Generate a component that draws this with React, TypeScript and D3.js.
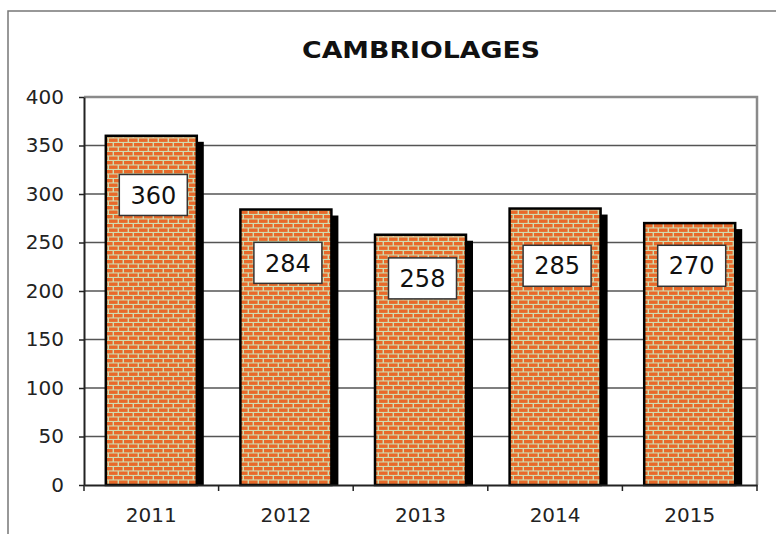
import React, { useEffect, useRef } from 'react';
import * as d3 from 'd3';

const years = ['2011', '2012', '2013', '2014', '2015'];
const burglaries = [360, 284, 258, 285, 270];
// where each value box sits, in axis units (center of the box)
const labelAt = [299, 229, 213, 226, 226];
const yTicks = [0, 50, 100, 150, 200, 250, 300, 350, 400];

const W = 776;
const H = 534;

const App = () => {
  const ref = useRef<SVGSVGElement>(null);

  useEffect(() => {
    const margin = { top: 97, right: 19, bottom: 49, left: 84 };
    const width = W - margin.left - margin.right;
    const height = H - margin.top - margin.bottom;

    const root = d3.select(ref.current);
    root.selectAll('*').remove();

    // brick texture
    const defs = root.append('defs');
    const pat = defs
      .append('pattern')
      .attr('id', 'bricks')
      .attr('patternUnits', 'userSpaceOnUse')
      .attr('width', 10)
      .attr('height', 9);
    pat.append('rect').attr('width', 10).attr('height', 9).attr('fill', '#cfdcb0');
    pat.append('rect').attr('x', 0).attr('y', 1).attr('width', 8.6).attr('height', 3.4).attr('fill', '#e8692a');
    pat.append('rect').attr('x', -5).attr('y', 5.5).attr('width', 8.6).attr('height', 3.4).attr('fill', '#e8692a');
    pat.append('rect').attr('x', 5).attr('y', 5.5).attr('width', 8.6).attr('height', 3.4).attr('fill', '#e8692a');

    root.append('rect').attr('width', W).attr('height', H).attr('fill', '#fff');

    // outer frame
    root
      .append('path')
      .attr('d', `M8,${H} L8,11 L${W},11`)
      .attr('fill', 'none')
      .attr('stroke', '#777')
      .attr('stroke-width', 1.5);

    root
      .append('text')
      .attr('x', 421)
      .attr('y', 58)
      .attr('text-anchor', 'middle')
      .attr('font-family', 'DejaVu Sans, Verdana, sans-serif')
      .attr('font-weight', 'bold')
      .attr('font-size', 23)
      .attr('textLength', 238)
      .attr('lengthAdjust', 'spacingAndGlyphs')
      .attr('fill', '#111')
      .text('CAMBRIOLAGES');

    const svg = root.append('g').attr('transform', `translate(${margin.left},${margin.top})`);

    const x = d3.scaleBand().domain(years).range([0, width]).padding(0);
    const y = d3.scaleLinear().domain([0, 400]).range([height, 0]);

    // gridlines
    svg
      .selectAll('.grid')
      .data(yTicks.filter((d) => d > 0 && d < 400))
      .enter()
      .append('line')
      .attr('x1', 0)
      .attr('x2', width)
      .attr('y1', (d) => y(d))
      .attr('y2', (d) => y(d))
      .attr('stroke', '#555')
      .attr('stroke-width', 1.5);

    // plot frame top + right
    svg
      .append('path')
      .attr('d', `M0,${y(400)} L${width},${y(400)} L${width},${height}`)
      .attr('fill', 'none')
      .attr('stroke', '#8a8a8a')
      .attr('stroke-width', 2.5);

    const barW = x.bandwidth() * 0.676;
    const bx = (d: string) => x(d)! + (x.bandwidth() - barW) / 2;
    const shadow = 7;

    const bars = svg.selectAll('.bar').data(burglaries).enter().append('g');

    bars
      .append('rect')
      .attr('x', (d, i) => bx(years[i]) + shadow)
      .attr('y', (d) => y(d) + 6)
      .attr('width', barW)
      .attr('height', (d) => height - y(d) - 6)
      .attr('fill', '#000');

    bars
      .append('rect')
      .attr('x', (d, i) => bx(years[i]))
      .attr('y', (d) => y(d))
      .attr('width', barW)
      .attr('height', (d) => height - y(d))
      .attr('fill', 'url(#bricks)')
      .attr('stroke', '#000')
      .attr('stroke-width', 2.5);

    // value boxes
    const boxW = 68;
    const boxH = 41;
    const labels = svg.selectAll('.lbl').data(burglaries).enter().append('g');
    labels
      .append('rect')
      .attr('x', (d, i) => x(years[i])! + x.bandwidth() / 2 + 2 - boxW / 2)
      .attr('y', (d, i) => y(labelAt[i]) - boxH / 2)
      .attr('width', boxW)
      .attr('height', boxH)
      .attr('fill', '#fff')
      .attr('stroke', '#333')
      .attr('stroke-width', 1.5);
    labels
      .append('text')
      .attr('x', (d, i) => x(years[i])! + x.bandwidth() / 2 + 2)
      .attr('y', (d, i) => y(labelAt[i]))
      .attr('dy', '0.36em')
      .attr('text-anchor', 'middle')
      .attr('font-family', 'DejaVu Sans, Verdana, sans-serif')
      .attr('font-size', 24)
      .attr('fill', '#111')
      .text((d) => d);

    // axes
    const yAxis = svg
      .append('g')
      .call(d3.axisLeft(y).tickValues(yTicks).tickSize(5).tickPadding(15).tickSizeOuter(0));
    yAxis.select('.domain').attr('stroke', '#222').attr('stroke-width', 2);
    yAxis.selectAll('line').attr('stroke', '#222').attr('stroke-width', 1.5);
    yAxis
      .selectAll('text')
      .attr('font-family', 'DejaVu Sans, Verdana, sans-serif')
      .attr('font-size', 20)
      .attr('fill', '#222');

    const xAxis = svg
      .append('g')
      .attr('transform', `translate(0,${height})`)
      .call(d3.axisBottom(x).tickSize(0).tickPadding(23));
    xAxis.select('.domain').attr('stroke', '#222').attr('stroke-width', 2);
    xAxis
      .selectAll('text')
      .attr('font-family', 'DejaVu Sans, Verdana, sans-serif')
      .attr('font-size', 20)
      .attr('fill', '#222');

    // category boundary ticks
    const bounds = years.map((d) => x(d)!).concat([width]);
    xAxis
      .selectAll('.bnd')
      .data(bounds)
      .enter()
      .append('line')
      .attr('x1', (d) => d)
      .attr('x2', (d) => d)
      .attr('y1', 0)
      .attr('y2', 6)
      .attr('stroke', '#222')
      .attr('stroke-width', 1.5);
  }, []);

  return (
    <svg
      ref={ref}
      width={W}
      height={H}
      style={{ position: 'absolute', left: 0, top: 0 }}
    />
  );
};

export default App;
